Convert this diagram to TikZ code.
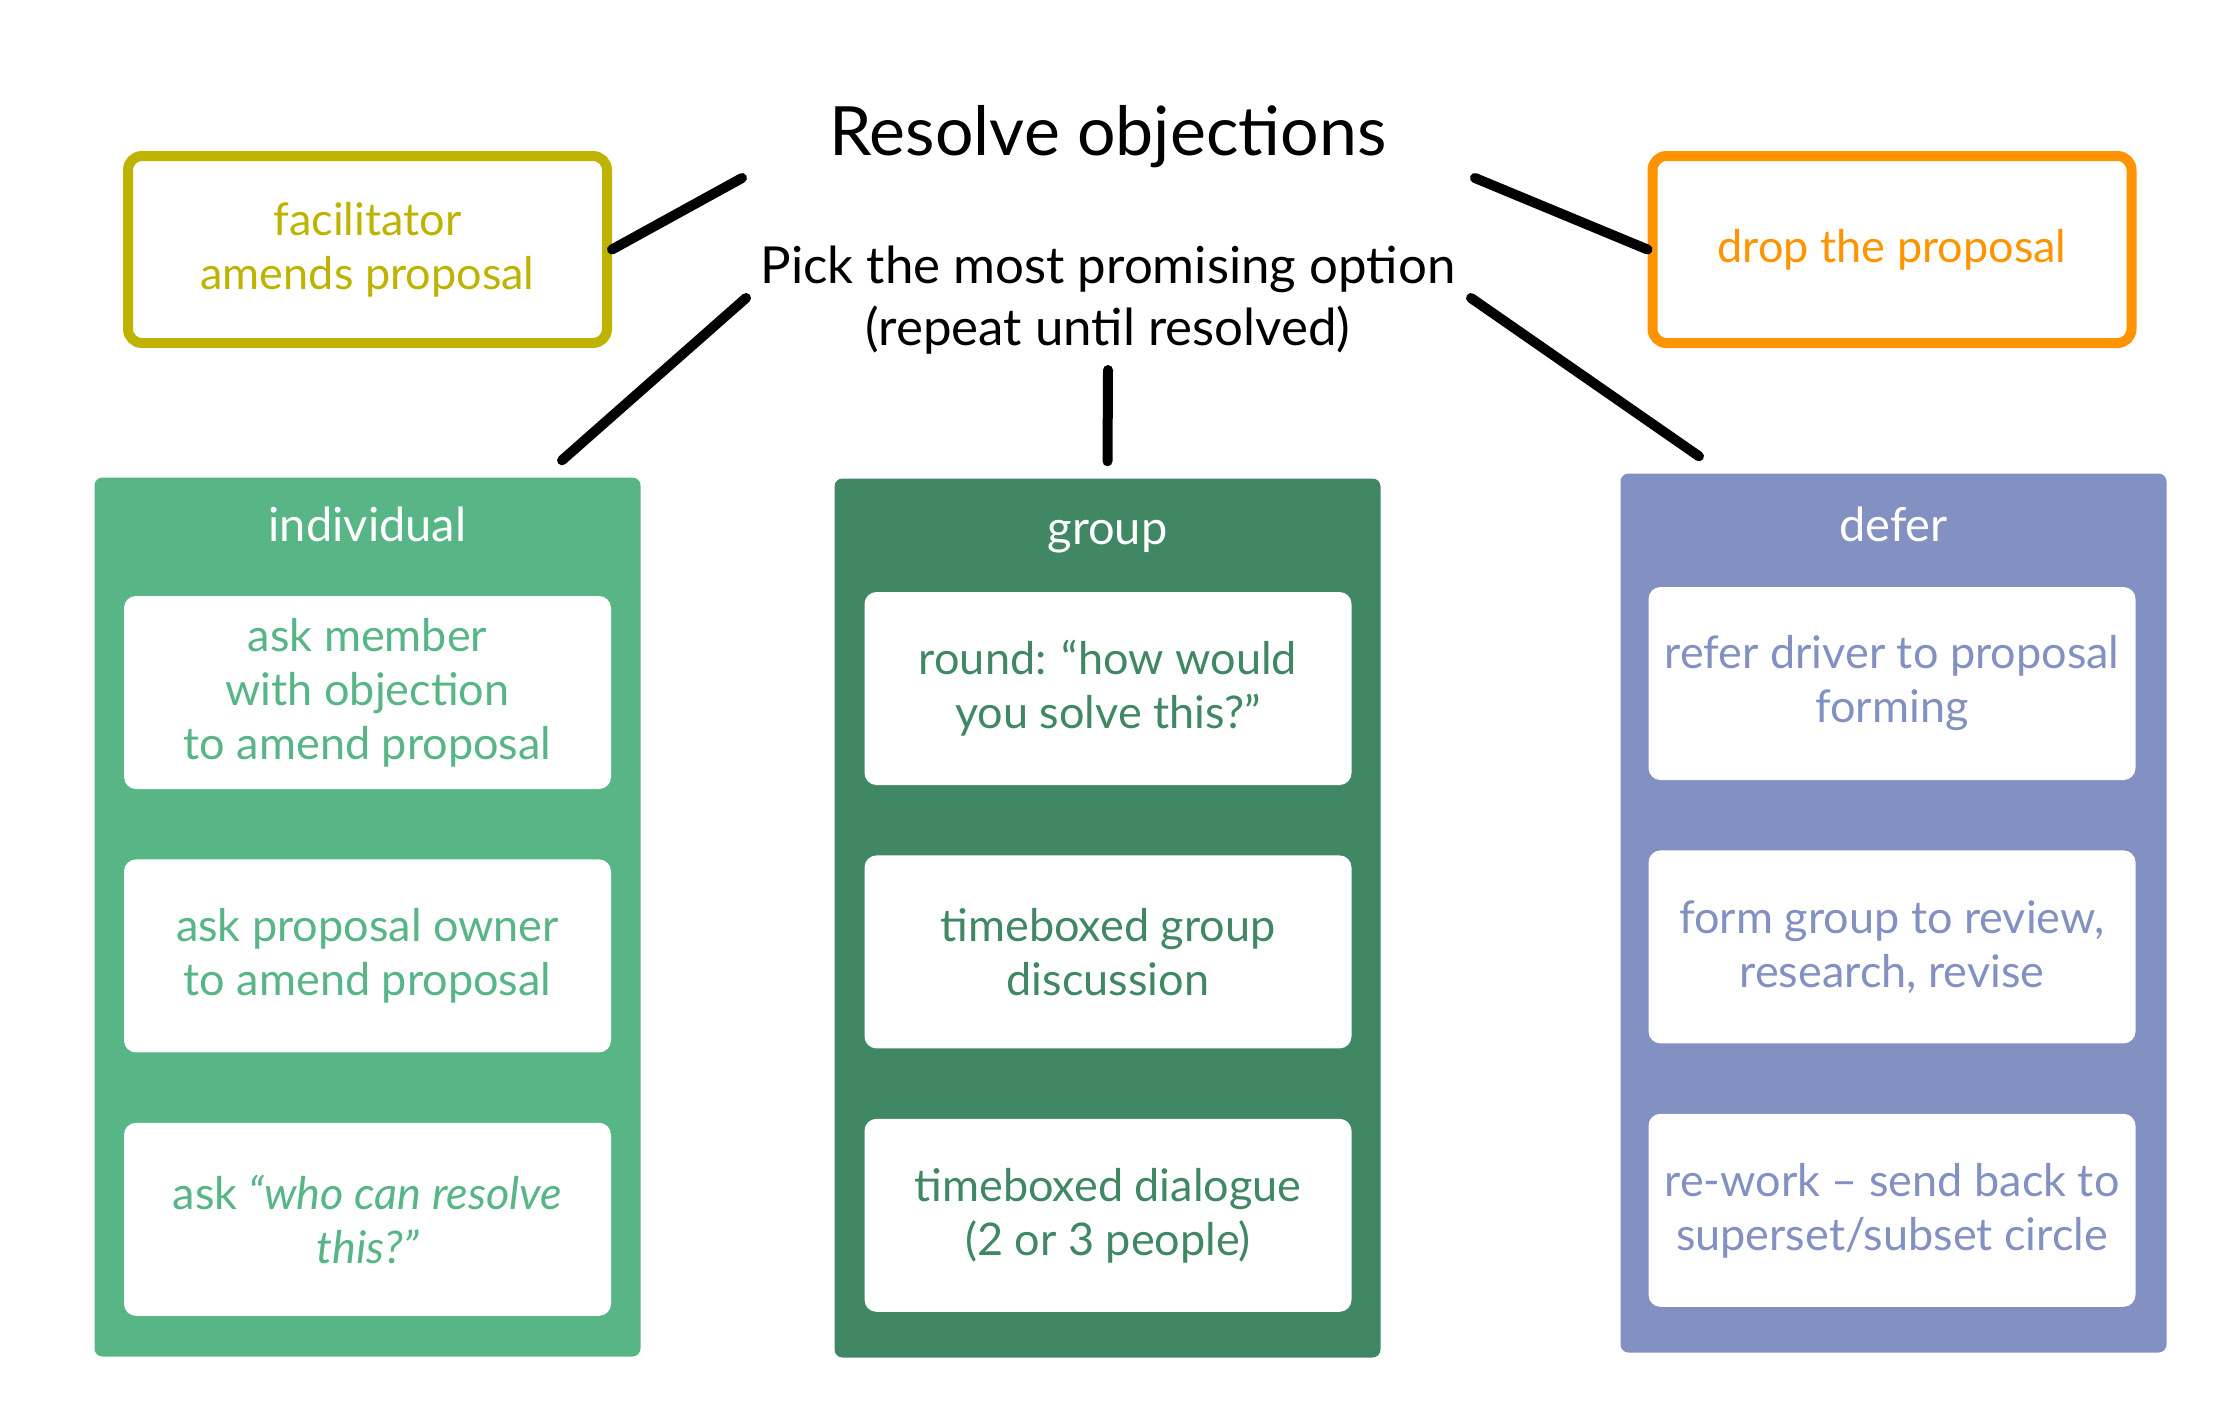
\documentclass[tikz,border=0pt]{standalone}
\usepackage{fontspec}
\setmainfont{Lato}
\usetikzlibrary{positioning}

\definecolor{facilcol}{HTML}{BDB300}
\definecolor{dropcol}{HTML}{FF9400}
\definecolor{indivcol}{HTML}{57B586}
\definecolor{groupcol}{HTML}{408763}
\definecolor{defercol}{HTML}{8391C2}

\tikzset{
  panel/.style={rectangle, rounded corners=8pt, fill=#1, minimum width=546pt, minimum height=879pt, inner sep=0pt},
  header/.style={text=white, font=\fontsize{47}{54}\selectfont},
  option/.style={rectangle, rounded corners=12pt, fill=white, text=#1, align=center, minimum width=487pt, minimum height=193pt, inner sep=0pt, font=\fontsize{45}{54}\selectfont},
  outcome/.style={rectangle, rounded corners=14pt, draw=#1, line width=10pt, text=#1, align=center, minimum width=479pt, minimum height=187pt, font=\fontsize{45}{54}\selectfont},
  link/.style={line width=10pt, line cap=round}
}

\begin{document}
\begin{tikzpicture}[x=1pt, y=-1pt, node distance=70pt]
    \useasboundingbox (0,0) rectangle (2216,1419);

    % heading
    \node (title) [anchor=base, font=\fontsize{68}{74}\selectfont] at (1108,155) {Resolve objections};
    \node (pick) [anchor=base, align=center, font=\fontsize{51}{62}\selectfont] at (1108,345) {Pick the most promising option\\(repeat until resolved)};

    % outcomes beside the heading
    \node (facil) [outcome=facilcol] at (367.5,249.5) {facilitator\\amends proposal};
    \node (drop) [outcome=dropcol] at (1892,249.5) {drop the proposal};

    % the three columns
    \node (indiv) [panel=indivcol] at (367.5,917) {};
    \node (group) [panel=groupcol] at (1107.5,918) {};
    \node (defer) [panel=defercol] at (1893.5,913) {};
    \node (indivhead) [header] at (367.5,524) {individual};
    \node (grouphead) [header] at (1107.5,537) {group};
    \node (deferhead) [header] at (1893.5,524) {defer};

    \node (ind1) [option=indivcol] at (367.5,692.5) {ask member\\with objection\\to amend proposal};
    \node (ind2) [option=indivcol, below=of ind1] {ask proposal owner\\to amend proposal};
    \node (ind3) [option=indivcol, below=of ind2] {ask \textit{“who can resolve}\\\textit{this?”}};

    \node (grp1) [option=groupcol] at (1108,688.5) {round: “how would\\you solve this?”};
    \node (grp2) [option=groupcol, below=of grp1] {timeboxed group\\discussion};
    \node (grp3) [option=groupcol, below=of grp2] {timeboxed dialogue\\(2 or 3 people)};

    \node (def1) [option=defercol] at (1892,683.5) {refer driver to proposal\\forming};
    \node (def2) [option=defercol, below=of def1] {form group to review,\\research, revise};
    \node (def3) [option=defercol, below=of def2] {re-work -- send back to\\superset/subset circle};

    % connectors
    \coordinate (hubA) at (742,178);
    \coordinate (hubB) at (1475,178);
    \coordinate (hubC) at (746,298);
    \coordinate (hubD) at (1108,370);
    \coordinate (hubE) at (1471,298);
    \coordinate (indivtop) at ([xshift=194.5pt, yshift=17pt]indiv.north);
    \coordinate (grouptop) at ([yshift=17pt]group.north);
    \coordinate (defertop) at ([xshift=-194.5pt, yshift=17pt]defer.north);

    \draw [link] (facil.east) -- (hubA);
    \draw [link] (drop.west) -- (hubB);
    \draw [link] (hubC) -- (indivtop);
    \draw [link] (hubD) -- (grouptop);
    \draw [link] (hubE) -- (defertop);
\end{tikzpicture}
\end{document}
